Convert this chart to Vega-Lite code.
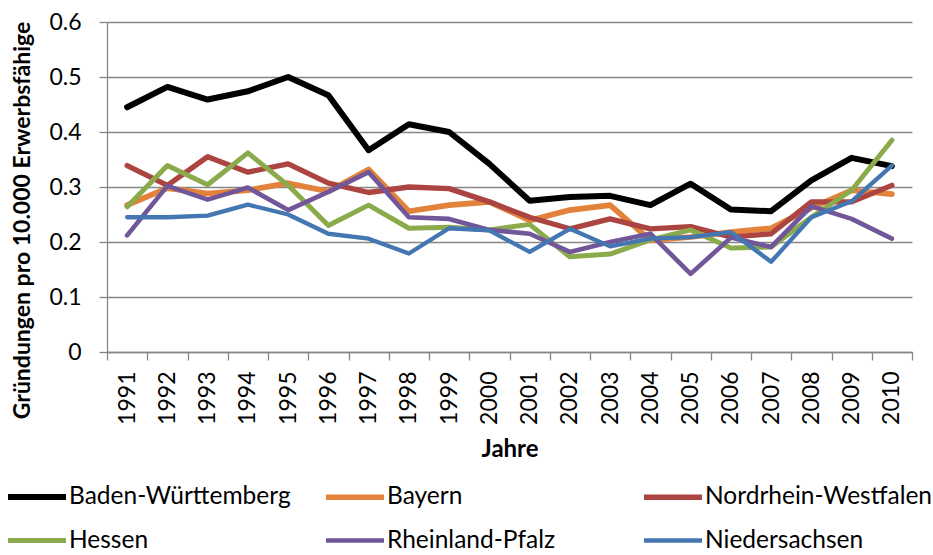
{
  "$schema": "https://vega.github.io/schema/vega-lite/v6.json",
  "width": 805,
  "height": 330,
  "autosize": {"type": "none"},
  "padding": {"left": 107, "top": 22, "right": 21, "bottom": 203},
  "background": "white",
  "config": {
    "font": "Lato",
    "view": {"stroke": null},
    "axis": {"labelFont": "Lato", "titleFont": "Lato", "labelColor": "#000", "titleColor": "#000"}
  },
  "data": {"values": [
    {"Jahr":"1991","Land":"Baden-Württemberg","Wert":0.445},
    {"Jahr":"1992","Land":"Baden-Württemberg","Wert":0.482},
    {"Jahr":"1993","Land":"Baden-Württemberg","Wert":0.459},
    {"Jahr":"1994","Land":"Baden-Württemberg","Wert":0.474},
    {"Jahr":"1995","Land":"Baden-Württemberg","Wert":0.500},
    {"Jahr":"1996","Land":"Baden-Württemberg","Wert":0.467},
    {"Jahr":"1997","Land":"Baden-Württemberg","Wert":0.367},
    {"Jahr":"1998","Land":"Baden-Württemberg","Wert":0.414},
    {"Jahr":"1999","Land":"Baden-Württemberg","Wert":0.400},
    {"Jahr":"2000","Land":"Baden-Württemberg","Wert":0.342},
    {"Jahr":"2001","Land":"Baden-Württemberg","Wert":0.275},
    {"Jahr":"2002","Land":"Baden-Württemberg","Wert":0.282},
    {"Jahr":"2003","Land":"Baden-Württemberg","Wert":0.284},
    {"Jahr":"2004","Land":"Baden-Württemberg","Wert":0.267},
    {"Jahr":"2005","Land":"Baden-Württemberg","Wert":0.306},
    {"Jahr":"2006","Land":"Baden-Württemberg","Wert":0.259},
    {"Jahr":"2007","Land":"Baden-Württemberg","Wert":0.256},
    {"Jahr":"2008","Land":"Baden-Württemberg","Wert":0.312},
    {"Jahr":"2009","Land":"Baden-Württemberg","Wert":0.353},
    {"Jahr":"2010","Land":"Baden-Württemberg","Wert":0.338},
    {"Jahr":"1991","Land":"Bayern","Wert":0.267},
    {"Jahr":"1992","Land":"Bayern","Wert":0.298},
    {"Jahr":"1993","Land":"Bayern","Wert":0.288},
    {"Jahr":"1994","Land":"Bayern","Wert":0.294},
    {"Jahr":"1995","Land":"Bayern","Wert":0.307},
    {"Jahr":"1996","Land":"Bayern","Wert":0.292},
    {"Jahr":"1997","Land":"Bayern","Wert":0.332},
    {"Jahr":"1998","Land":"Bayern","Wert":0.256},
    {"Jahr":"1999","Land":"Bayern","Wert":0.267},
    {"Jahr":"2000","Land":"Bayern","Wert":0.273},
    {"Jahr":"2001","Land":"Bayern","Wert":0.239},
    {"Jahr":"2002","Land":"Bayern","Wert":0.258},
    {"Jahr":"2003","Land":"Bayern","Wert":0.267},
    {"Jahr":"2004","Land":"Bayern","Wert":0.203},
    {"Jahr":"2005","Land":"Bayern","Wert":0.209},
    {"Jahr":"2006","Land":"Bayern","Wert":0.218},
    {"Jahr":"2007","Land":"Bayern","Wert":0.225},
    {"Jahr":"2008","Land":"Bayern","Wert":0.262},
    {"Jahr":"2009","Land":"Bayern","Wert":0.294},
    {"Jahr":"2010","Land":"Bayern","Wert":0.287},
    {"Jahr":"1991","Land":"Nordrhein-Westfalen","Wert":0.339},
    {"Jahr":"1992","Land":"Nordrhein-Westfalen","Wert":0.303},
    {"Jahr":"1993","Land":"Nordrhein-Westfalen","Wert":0.355},
    {"Jahr":"1994","Land":"Nordrhein-Westfalen","Wert":0.327},
    {"Jahr":"1995","Land":"Nordrhein-Westfalen","Wert":0.342},
    {"Jahr":"1996","Land":"Nordrhein-Westfalen","Wert":0.307},
    {"Jahr":"1997","Land":"Nordrhein-Westfalen","Wert":0.290},
    {"Jahr":"1998","Land":"Nordrhein-Westfalen","Wert":0.300},
    {"Jahr":"1999","Land":"Nordrhein-Westfalen","Wert":0.297},
    {"Jahr":"2000","Land":"Nordrhein-Westfalen","Wert":0.273},
    {"Jahr":"2001","Land":"Nordrhein-Westfalen","Wert":0.245},
    {"Jahr":"2002","Land":"Nordrhein-Westfalen","Wert":0.224},
    {"Jahr":"2003","Land":"Nordrhein-Westfalen","Wert":0.242},
    {"Jahr":"2004","Land":"Nordrhein-Westfalen","Wert":0.224},
    {"Jahr":"2005","Land":"Nordrhein-Westfalen","Wert":0.228},
    {"Jahr":"2006","Land":"Nordrhein-Westfalen","Wert":0.209},
    {"Jahr":"2007","Land":"Nordrhein-Westfalen","Wert":0.215},
    {"Jahr":"2008","Land":"Nordrhein-Westfalen","Wert":0.273},
    {"Jahr":"2009","Land":"Nordrhein-Westfalen","Wert":0.273},
    {"Jahr":"2010","Land":"Nordrhein-Westfalen","Wert":0.303},
    {"Jahr":"1991","Land":"Hessen","Wert":0.264},
    {"Jahr":"1992","Land":"Hessen","Wert":0.339},
    {"Jahr":"1993","Land":"Hessen","Wert":0.304},
    {"Jahr":"1994","Land":"Hessen","Wert":0.362},
    {"Jahr":"1995","Land":"Hessen","Wert":0.303},
    {"Jahr":"1996","Land":"Hessen","Wert":0.230},
    {"Jahr":"1997","Land":"Hessen","Wert":0.267},
    {"Jahr":"1998","Land":"Hessen","Wert":0.225},
    {"Jahr":"1999","Land":"Hessen","Wert":0.227},
    {"Jahr":"2000","Land":"Hessen","Wert":0.222},
    {"Jahr":"2001","Land":"Hessen","Wert":0.232},
    {"Jahr":"2002","Land":"Hessen","Wert":0.173},
    {"Jahr":"2003","Land":"Hessen","Wert":0.178},
    {"Jahr":"2004","Land":"Hessen","Wert":0.204},
    {"Jahr":"2005","Land":"Hessen","Wert":0.222},
    {"Jahr":"2006","Land":"Hessen","Wert":0.189},
    {"Jahr":"2007","Land":"Hessen","Wert":0.191},
    {"Jahr":"2008","Land":"Hessen","Wert":0.245},
    {"Jahr":"2009","Land":"Hessen","Wert":0.294},
    {"Jahr":"2010","Land":"Hessen","Wert":0.385},
    {"Jahr":"1991","Land":"Rheinland-Pfalz","Wert":0.212},
    {"Jahr":"1992","Land":"Rheinland-Pfalz","Wert":0.302},
    {"Jahr":"1993","Land":"Rheinland-Pfalz","Wert":0.277},
    {"Jahr":"1994","Land":"Rheinland-Pfalz","Wert":0.299},
    {"Jahr":"1995","Land":"Rheinland-Pfalz","Wert":0.258},
    {"Jahr":"1996","Land":"Rheinland-Pfalz","Wert":0.291},
    {"Jahr":"1997","Land":"Rheinland-Pfalz","Wert":0.327},
    {"Jahr":"1998","Land":"Rheinland-Pfalz","Wert":0.245},
    {"Jahr":"1999","Land":"Rheinland-Pfalz","Wert":0.242},
    {"Jahr":"2000","Land":"Rheinland-Pfalz","Wert":0.222},
    {"Jahr":"2001","Land":"Rheinland-Pfalz","Wert":0.215},
    {"Jahr":"2002","Land":"Rheinland-Pfalz","Wert":0.182},
    {"Jahr":"2003","Land":"Rheinland-Pfalz","Wert":0.200},
    {"Jahr":"2004","Land":"Rheinland-Pfalz","Wert":0.215},
    {"Jahr":"2005","Land":"Rheinland-Pfalz","Wert":0.142},
    {"Jahr":"2006","Land":"Rheinland-Pfalz","Wert":0.208},
    {"Jahr":"2007","Land":"Rheinland-Pfalz","Wert":0.191},
    {"Jahr":"2008","Land":"Rheinland-Pfalz","Wert":0.265},
    {"Jahr":"2009","Land":"Rheinland-Pfalz","Wert":0.242},
    {"Jahr":"2010","Land":"Rheinland-Pfalz","Wert":0.206},
    {"Jahr":"1991","Land":"Niedersachsen","Wert":0.245},
    {"Jahr":"1992","Land":"Niedersachsen","Wert":0.245},
    {"Jahr":"1993","Land":"Niedersachsen","Wert":0.248},
    {"Jahr":"1994","Land":"Niedersachsen","Wert":0.268},
    {"Jahr":"1995","Land":"Niedersachsen","Wert":0.250},
    {"Jahr":"1996","Land":"Niedersachsen","Wert":0.215},
    {"Jahr":"1997","Land":"Niedersachsen","Wert":0.206},
    {"Jahr":"1998","Land":"Niedersachsen","Wert":0.179},
    {"Jahr":"1999","Land":"Niedersachsen","Wert":0.225},
    {"Jahr":"2000","Land":"Niedersachsen","Wert":0.221},
    {"Jahr":"2001","Land":"Niedersachsen","Wert":0.182},
    {"Jahr":"2002","Land":"Niedersachsen","Wert":0.224},
    {"Jahr":"2003","Land":"Niedersachsen","Wert":0.192},
    {"Jahr":"2004","Land":"Niedersachsen","Wert":0.206},
    {"Jahr":"2005","Land":"Niedersachsen","Wert":0.209},
    {"Jahr":"2006","Land":"Niedersachsen","Wert":0.218},
    {"Jahr":"2007","Land":"Niedersachsen","Wert":0.164},
    {"Jahr":"2008","Land":"Niedersachsen","Wert":0.245},
    {"Jahr":"2009","Land":"Niedersachsen","Wert":0.274},
    {"Jahr":"2010","Land":"Niedersachsen","Wert":0.339}
  ]},
  "mark": {"type": "line", "strokeJoin": "round", "strokeCap": "round"},
  "encoding": {
    "x": {
      "field": "Jahr", "type": "ordinal", "bandPosition": 0.5,
      "scale": {"type": "band", "paddingInner": 0, "paddingOuter": 0},
      "axis": {
        "title": "Jahre", "titleFontSize": 24, "titleFontWeight": "bold", "titlePadding": 13,
        "labelAngle": -90, "labelFontSize": 23, "labelPadding": 11, "labelAlign": "right", "labelBaseline": "middle",
        "tickBand": "extent", "tickSize": 8, "tickColor": "#868686", "tickWidth": 1.3,
        "domainColor": "#868686", "domainWidth": 1.3, "grid": false
      }
    },
    "y": {
      "field": "Wert", "type": "quantitative",
      "scale": {"domain": [0, 0.6], "nice": false},
      "axis": {
        "title": "Gründungen pro 10.000 Erwerbsfähige", "titleFontSize": 23, "titleFontWeight": "bold",
        "titleAngle": -90, "titleX": -85, "titleY": 198, "titleAlign": "center", "titleBaseline": "middle",
        "values": [0, 0.1, 0.2, 0.3, 0.4, 0.5, 0.6],
        "labelExpr": "datum.value == 0 ? '0' : format(datum.value, '.1f')",
        "labelFontSize": 23, "labelPadding": 18,
        "tickSize": 8, "tickColor": "#868686", "tickWidth": 1.3,
        "domainColor": "#868686", "domainWidth": 1.3,
        "grid": true, "gridColor": "#868686", "gridWidth": 1.3
      }
    },
    "color": {
      "field": "Land", "type": "nominal",
      "scale": {
        "domain": ["Baden-Württemberg", "Bayern", "Nordrhein-Westfalen", "Hessen", "Rheinland-Pfalz", "Niedersachsen"],
        "range": ["#000000", "#E3823A", "#AC4541", "#8BAA4B", "#71569A", "#4477B1"]
      },
      "legend": {
        "title": null, "orient": "none", "legendX": -102, "legendY": 443, "direction": "horizontal",
        "columns": 3, "gridAlign": "all", "columnPadding": 17, "rowPadding": -9,
        "symbolType": "stroke", "symbolSize": 3364, "symbolStrokeWidth": 4.3,
        "labelFontSize": 24.5, "labelFont": "Lato", "labelColor": "#000", "labelOffset": 0, "labelLimit": 400, "padding": 0
      }
    },
    "strokeWidth": {
      "field": "Land", "type": "nominal",
      "scale": {
        "domain": ["Baden-Württemberg", "Bayern", "Nordrhein-Westfalen", "Hessen", "Rheinland-Pfalz", "Niedersachsen"],
        "range": [6, 4.3, 4.3, 4.3, 4.3, 4.3]
      },
      "legend": {
        "title": null, "orient": "none", "legendX": -102, "legendY": 443, "direction": "horizontal",
        "columns": 3, "gridAlign": "all", "columnPadding": 17, "rowPadding": -9,
        "symbolType": "stroke", "symbolSize": 3364,
        "labelFontSize": 24.5, "labelFont": "Lato", "labelColor": "#000", "labelOffset": 0, "labelLimit": 400, "padding": 0
      }
    }
  }
}
